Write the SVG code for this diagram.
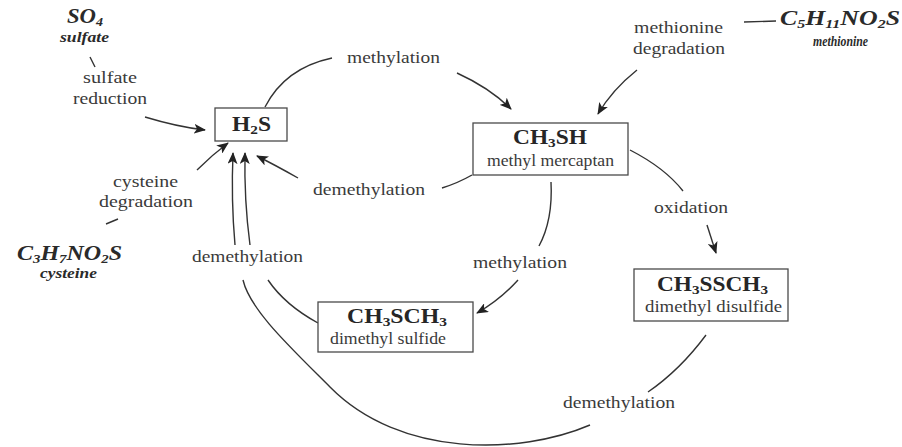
<svg xmlns="http://www.w3.org/2000/svg" width="902" height="447" viewBox="0 0 902 447">
<style>
text{font-family:"Liberation Serif","Times New Roman",serif;text-anchor:middle;}
.lbl{font-size:16px;fill:#3a3a3a;}
.nm{font-size:16px;fill:#3a3a3a;}
.f{font-size:20px;font-weight:bold;fill:#262626;}
.it{font-size:21px;font-weight:bold;font-style:italic;fill:#2a2a2a;}
.its{font-size:14px;font-weight:bold;font-style:italic;fill:#2a2a2a;}
.box{fill:#fff;stroke:#4a4a4a;stroke-width:1.3;}
.c{fill:none;stroke:#333;stroke-width:1.4;}
.a{marker-end:url(#ah);}
</style>
<defs>
<marker id="ah" viewBox="0 0 12 10" refX="11" refY="5" markerWidth="12" markerHeight="10" markerUnits="userSpaceOnUse" orient="auto">
<path d="M0,0 L12,5 L0,10 L3,5 Z" fill="#222"/>
</marker>
</defs>

<g id="connectors">
<!-- sulfate reduction -->
<path class="c" d="M90,57 L95,67"/>
<path class="c a" d="M145,117 Q178,127 205,130"/>
<!-- methionine degradation -->
<path class="c" d="M744,22 L776,21"/>
<path class="c a" d="M637,70 Q612,90 598,114"/>
<!-- cysteine degradation -->
<path class="c" d="M106,224 L118,219"/>
<path class="c a" d="M197,170 Q212,155 228,143"/>
<!-- methylation H2S -> CH3SH -->
<path class="c" d="M265,107 Q285,68 332,58"/>
<path class="c a" d="M457,73 Q490,88 511,109"/>
<!-- demethylation CH3SH -> H2S -->
<path class="c" d="M472,175 Q458,183 442,188"/>
<path class="c a" d="M298,178 Q275,165 257,156"/>
<!-- methylation CH3SH -> CH3SCH3 -->
<path class="c" d="M551,182 Q553,220 539,246"/>
<path class="c a" d="M518,280 Q500,300 477,313"/>
<!-- oxidation -->
<path class="c" d="M630,150 Q665,168 683,191"/>
<path class="c a" d="M707,225 L716,253"/>
<!-- demethylation CH3SCH3 -> H2S -->
<path class="c" d="M318,323 Q285,305 268,280"/>
<path class="c a" d="M250,245 Q244,200 245,153"/>
<!-- demethylation CH3SSCH3 -> H2S -->
<path class="c" d="M706,335 Q680,370 648,392"/>
<path class="c" d="M590,425 C520,455 400,458 330,387 C290,347 250,310 243,280"/>
<path class="c a" d="M235,245 Q231,200 233,153"/>
</g>

<g id="labels">
<text class="lbl" x="110" y="83" textLength="54" lengthAdjust="spacingAndGlyphs">sulfate</text>
<text class="lbl" x="110" y="104" textLength="74" lengthAdjust="spacingAndGlyphs">reduction</text>
<text class="lbl" x="393.5" y="63" textLength="93" lengthAdjust="spacingAndGlyphs">methylation</text>
<text class="lbl" x="678.5" y="33" textLength="89" lengthAdjust="spacingAndGlyphs">methionine</text>
<text class="lbl" x="679" y="54" textLength="92" lengthAdjust="spacingAndGlyphs">degradation</text>
<text class="lbl" x="369" y="195" textLength="112" lengthAdjust="spacingAndGlyphs">demethylation</text>
<text class="lbl" x="145.5" y="187" textLength="65" lengthAdjust="spacingAndGlyphs">cysteine</text>
<text class="lbl" x="146" y="207" textLength="94" lengthAdjust="spacingAndGlyphs">degradation</text>
<text class="lbl" x="247.5" y="262" textLength="111" lengthAdjust="spacingAndGlyphs">demethylation</text>
<text class="lbl" x="691" y="213" textLength="74" lengthAdjust="spacingAndGlyphs">oxidation</text>
<text class="lbl" x="520" y="268" textLength="94" lengthAdjust="spacingAndGlyphs">methylation</text>
<text class="lbl" x="619" y="408" textLength="112" lengthAdjust="spacingAndGlyphs">demethylation</text>
</g>

<g id="sulfate">
<text class="it" x="85" y="23" textLength="36" lengthAdjust="spacingAndGlyphs">SO<tspan font-size="13" dy="3">4</tspan></text>
<text class="its" x="84.5" y="42" textLength="49" lengthAdjust="spacingAndGlyphs">sulfate</text>
</g>

<g id="methionine">
<text class="it" x="840" y="25" textLength="120" lengthAdjust="spacingAndGlyphs">C<tspan font-size="13" dy="3">5</tspan><tspan dy="-3">H</tspan><tspan font-size="13" dy="3">11</tspan><tspan dy="-3">NO</tspan><tspan font-size="13" dy="3">2</tspan><tspan dy="-3">S</tspan></text>
<text class="its" x="840.5" y="46" textLength="55" lengthAdjust="spacingAndGlyphs">methionine</text>
</g>

<g id="cysteine">
<text class="it" x="69.5" y="260" textLength="105" lengthAdjust="spacingAndGlyphs">C<tspan font-size="13" dy="3">3</tspan><tspan dy="-3">H</tspan><tspan font-size="13" dy="3">7</tspan><tspan dy="-3">NO</tspan><tspan font-size="13" dy="3">2</tspan><tspan dy="-3">S</tspan></text>
<text class="its" x="68.5" y="278" textLength="57" lengthAdjust="spacingAndGlyphs">cysteine</text>
</g>

<g id="h2s">
<rect class="box" x="215" y="108" width="72" height="33"/>
<text class="f" x="251.5" y="131" textLength="39" lengthAdjust="spacingAndGlyphs">H<tspan font-size="13" dy="3">2</tspan><tspan dy="-3">S</tspan></text>
</g>

<g id="ch3sh">
<rect class="box" x="473" y="123" width="155" height="52"/>
<text class="f" x="550" y="144" textLength="74" lengthAdjust="spacingAndGlyphs">CH<tspan font-size="13" dy="3">3</tspan><tspan dy="-3">SH</tspan></text>
<text class="nm" x="550.5" y="166" textLength="127" lengthAdjust="spacingAndGlyphs">methyl mercaptan</text>
</g>

<g id="ch3sch3">
<rect class="box" x="318" y="302" width="155" height="50"/>
<text class="f" x="397" y="323" textLength="100" lengthAdjust="spacingAndGlyphs">CH<tspan font-size="13" dy="3">3</tspan><tspan dy="-3">SCH</tspan><tspan font-size="13" dy="3">3</tspan></text>
<text class="nm" x="388" y="344" textLength="116" lengthAdjust="spacingAndGlyphs">dimethyl sulfide</text>
</g>

<g id="ch3ssch3">
<rect class="box" x="634" y="269" width="154" height="52"/>
<text class="f" x="712.5" y="291" textLength="111" lengthAdjust="spacingAndGlyphs">CH<tspan font-size="13" dy="3">3</tspan><tspan dy="-3">SSCH</tspan><tspan font-size="13" dy="3">3</tspan></text>
<text class="nm" x="713.5" y="312" textLength="137" lengthAdjust="spacingAndGlyphs">dimethyl disulfide</text>
</g>
</svg>
